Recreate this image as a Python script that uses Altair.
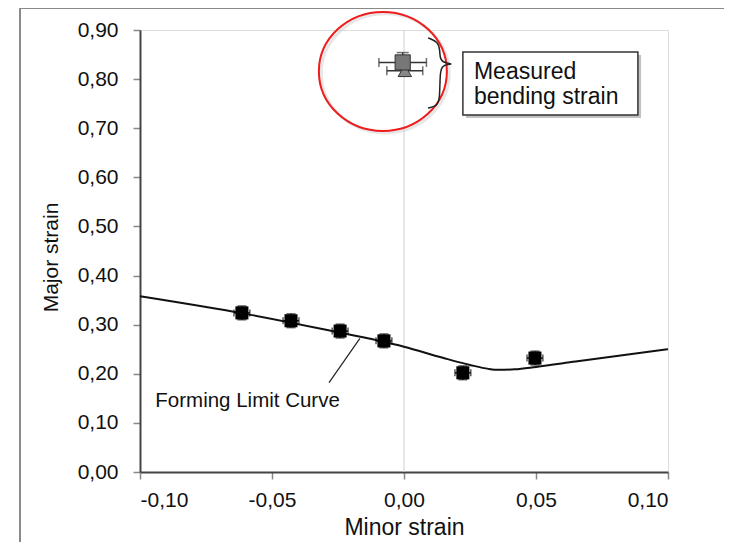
import altair as alt
import pandas as pd

# ---- data ----
pt_x = [-0.0614, -0.0428, -0.0242, -0.0076, 0.0223, 0.0496]
pt_y = [0.324, 0.308, 0.287, 0.267, 0.202, 0.232]
pt_xerr = [0.003, 0.003, 0.003, 0.003, 0.003, 0.003]
pt_yerr = [0.014, 0.014, 0.014, 0.014, 0.014, 0.014]

flc_x = [-0.10, -0.06, -0.03, 0.0, 0.015, 0.025, 0.032, 0.036, 0.042, 0.05, 0.065, 0.10]
flc_y = [0.358, 0.322, 0.290, 0.255, 0.232, 0.218, 0.210, 0.208, 0.209, 0.214, 0.225, 0.250]

meas_name = ["square", "triangle-up"]
meas_x = [-0.0005, 0.0003]
meas_y = [0.834, 0.817]
meas_xerr = [0.009, 0.0068]
meas_yerr = [0.020, 0.012]

x_ticks = [-0.10, -0.05, 0.0, 0.05, 0.10]
y_ticks = [0.0, 0.1, 0.2, 0.3, 0.4, 0.5, 0.6, 0.7, 0.8, 0.9]

FONT = "Liberation Sans"
label_expr = "replace(replace(format(datum.value, '.2f'), '.', ','), '\u2212', '-')"

pts = pd.DataFrame({"x": pt_x, "y": pt_y, "xe": pt_xerr, "ye": pt_yerr})
pts["x0"] = pts.x - pts.xe
pts["x1"] = pts.x + pts.xe
pts["y0"] = pts.y - pts.ye
pts["y1"] = pts.y + pts.ye

flc = pd.DataFrame({"x": flc_x, "y": flc_y})

meas = pd.DataFrame({"shape": meas_name, "x": meas_x, "y": meas_y,
                     "xe": meas_xerr, "ye": meas_yerr})
meas["x0"] = meas.x - meas.xe
meas["x1"] = meas.x + meas.xe
meas["y0"] = meas.y - meas.ye
meas["y1"] = meas.y + meas.ye

xs = alt.Scale(domain=[-0.10, 0.10], nice=False, zero=False)
ys = alt.Scale(domain=[0.0, 0.90], nice=False, zero=False)

X = alt.X("x:Q", scale=xs, axis=alt.Axis(
    values=x_ticks, labelExpr=label_expr, title="Minor strain", grid=False,
    domainColor="#444", domainWidth=2, tickColor="#888", tickWidth=1.5, tickSize=7,
    labelFontSize=21, labelFont=FONT, labelColor="#111", labelPadding=10,
    titleFontSize=23, titleFont=FONT, titleColor="#111", titleFontWeight="normal",
    titleBaseline="alphabetic", titleY=62))
Y = alt.Y("y:Q", scale=ys, axis=alt.Axis(
    values=y_ticks, labelExpr=label_expr, title="Major strain", grid=False,
    domainColor="#444", domainWidth=2, tickColor="#888", tickWidth=1.5, tickSize=7,
    labelFontSize=21, labelFont=FONT, labelColor="#111", labelPadding=15,
    titleFontSize=21, titleFont=FONT, titleColor="#111", titleFontWeight="normal",
    titleBaseline="middle", titleX=-89, titleY=227))

# outer picture frame: only the top and left edges are inside the page
one = pd.DataFrame({"k": [0]})
frame_top = alt.Chart(one).mark_rule(color="#8a8a8a", strokeWidth=2).encode(
    x=alt.value(-121), x2=alt.value(584), y=alt.value(-22))
frame_left = alt.Chart(one).mark_rule(color="#8a8a8a", strokeWidth=2).encode(
    x=alt.value(-120), y=alt.value(-23), y2=alt.value(512))

zero_line = alt.Chart(one).mark_rule(color="#d0d0d0", strokeWidth=1).encode(
    x=alt.datum(0.0, scale=xs), y=alt.value(0), y2=alt.value(442))

curve = alt.Chart(flc).mark_line(color="#111", strokeWidth=2, interpolate="monotone").encode(x=X, y=Y)

vbar = alt.Chart(pts).mark_rule(color="#111", strokeWidth=1.5).encode(
    x=alt.X("x:Q", scale=xs), y=alt.Y("y0:Q", scale=ys), y2="y1:Q")
vcap0 = alt.Chart(pts).mark_tick(color="#111", orient="horizontal", size=9, thickness=1.5).encode(
    x=alt.X("x:Q", scale=xs), y=alt.Y("y0:Q", scale=ys))
vcap1 = alt.Chart(pts).mark_tick(color="#111", orient="horizontal", size=9, thickness=1.5).encode(
    x=alt.X("x:Q", scale=xs), y=alt.Y("y1:Q", scale=ys))
hbar = alt.Chart(pts).mark_rule(color="#111", strokeWidth=1.5).encode(
    x=alt.X("x0:Q", scale=xs), x2="x1:Q", y=alt.Y("y:Q", scale=ys))
hcap0 = alt.Chart(pts).mark_tick(color="#111", orient="vertical", size=7, thickness=1.5).encode(
    x=alt.X("x0:Q", scale=xs), y=alt.Y("y:Q", scale=ys))
hcap1 = alt.Chart(pts).mark_tick(color="#111", orient="vertical", size=7, thickness=1.5).encode(
    x=alt.X("x1:Q", scale=xs), y=alt.Y("y:Q", scale=ys))
squares = alt.Chart(pts).mark_point(shape="square", filled=True, color="#000", size=170, opacity=1).encode(
    x=alt.X("x:Q", scale=xs), y=alt.Y("y:Q", scale=ys))

# measured bending strain
m_hbar = alt.Chart(meas).mark_rule(color="#333", strokeWidth=1.5).encode(
    x=alt.X("x0:Q", scale=xs), x2="x1:Q", y=alt.Y("y:Q", scale=ys))
m_hcap0 = alt.Chart(meas).mark_tick(color="#333", orient="vertical", size=9, thickness=1.5).encode(
    x=alt.X("x0:Q", scale=xs), y=alt.Y("y:Q", scale=ys))
m_hcap1 = alt.Chart(meas).mark_tick(color="#333", orient="vertical", size=9, thickness=1.5).encode(
    x=alt.X("x1:Q", scale=xs), y=alt.Y("y:Q", scale=ys))
m_vbar = alt.Chart(meas).mark_rule(color="#333", strokeWidth=1.5).encode(
    x=alt.X("x:Q", scale=xs), y=alt.Y("y0:Q", scale=ys), y2="y1:Q")
m_vcap = alt.Chart(meas).mark_tick(color="#333", orient="horizontal", size=12, thickness=1.5).encode(
    x=alt.X("x:Q", scale=xs), y=alt.Y("y1:Q", scale=ys))
m_sq = alt.Chart(meas).transform_filter(alt.datum.shape == "square").mark_point(
    shape="square", filled=True, fill="#777", stroke="#333", strokeWidth=1, size=230, opacity=1).encode(
    x=alt.X("x:Q", scale=xs), y=alt.Y("y:Q", scale=ys))
m_tri = alt.Chart(meas).transform_filter(alt.datum.shape == "triangle-up").mark_point(
    shape="triangle-up", filled=True, fill="#888", stroke="#333", strokeWidth=1, size=180, opacity=1).encode(
    x=alt.X("x:Q", scale=xs), y=alt.Y("y:Q", scale=ys))

# red ellipse
ellipse_path = ("M -1 0 C -1 -0.5136 -0.5523 -0.93 0 -0.93 C 0.5523 -0.93 1 -0.5136 1 0 "
                "C 1 0.5136 0.5523 0.93 0 0.93 C -0.5523 0.93 -1 0.5136 -1 0 Z")
ell_shadow = alt.Chart(one).mark_point(
    shape=ellipse_path, filled=False, stroke="#bbbbbb", strokeWidth=3, strokeOpacity=0.5, size=128 * 128).encode(
    x=alt.datum(-0.0071, scale=xs), y=alt.datum(0.8117, scale=ys))
ellipse = alt.Chart(one).mark_point(
    shape=ellipse_path, filled=False, stroke="#ee1c1c", strokeWidth=2, size=128 * 128, opacity=1).encode(
    x=alt.datum(-0.0080, scale=xs), y=alt.datum(0.8157, scale=ys))

# brace
brace_x = [0.0091, 0.0129, 0.0136, 0.0136, 0.0148, 0.0193, 0.0148, 0.0136, 0.0136, 0.0125, 0.0091]
brace_y = [0.884, 0.876, 0.859, 0.843, 0.833, 0.831, 0.829, 0.819, 0.758, 0.745, 0.741]
brace = alt.Chart(pd.DataFrame({"x": brace_x, "y": brace_y, "o": list(range(len(brace_x)))})).mark_line(
    color="#222", strokeWidth=1.5, interpolate="basis").encode(
    x=alt.X("x:Q", scale=xs), y=alt.Y("y:Q", scale=ys), order="o:O")

# text box
box_shadow = alt.Chart(one).mark_rect(fill="#9a9a9a", opacity=0.6).encode(
    x=alt.datum(0.0235, scale=xs), x2=alt.datum(0.0898),
    y=alt.datum(0.849, scale=ys), y2=alt.datum(0.721))
box = alt.Chart(one).mark_rect(fill="white", stroke="#333", strokeWidth=1.5).encode(
    x=alt.datum(0.0223, scale=xs), x2=alt.datum(0.0886),
    y=alt.datum(0.855, scale=ys), y2=alt.datum(0.727))
box_text = alt.Chart(pd.DataFrame({"t": ["Measured", "bending strain"], "y": [0.800, 0.749]})).mark_text(
    align="left", baseline="alphabetic", font=FONT, fontSize=23, color="#111").encode(
    x=alt.datum(0.0265, scale=xs), y=alt.Y("y:Q", scale=ys), text="t:N")

# FLC label and leader
leader = alt.Chart(pd.DataFrame({"x": [-0.0284, -0.0167], "y": [0.182, 0.272]})).mark_line(
    color="#222", strokeWidth=1.2).encode(x=alt.X("x:Q", scale=xs), y=alt.Y("y:Q", scale=ys))
flc_label = alt.Chart(pd.DataFrame({"t": ["Forming  Limit Curve"]})).mark_text(
    align="left", baseline="alphabetic", font=FONT, fontSize=20.5, color="#111").encode(
    x=alt.datum(-0.0942, scale=xs), y=alt.datum(0.1325, scale=ys), text="t:N")

chart = alt.layer(
    frame_top, frame_left, zero_line, ell_shadow, ellipse, curve, leader, flc_label,
    vbar, vcap0, vcap1, hbar, hcap0, hcap1, squares,
    m_hbar, m_hcap0, m_hcap1, m_vbar, m_vcap, m_tri, m_sq,
    brace, box_shadow, box, box_text,
).properties(
    width=528, height=442, autosize="none",
    padding={"left": 132, "top": 22, "right": 56, "bottom": 70},
).configure_view(stroke="#8a8a8a", strokeWidth=2).configure(background="white")

chart.save("out.html", embed_options={"renderer": "svg", "actions": False})
